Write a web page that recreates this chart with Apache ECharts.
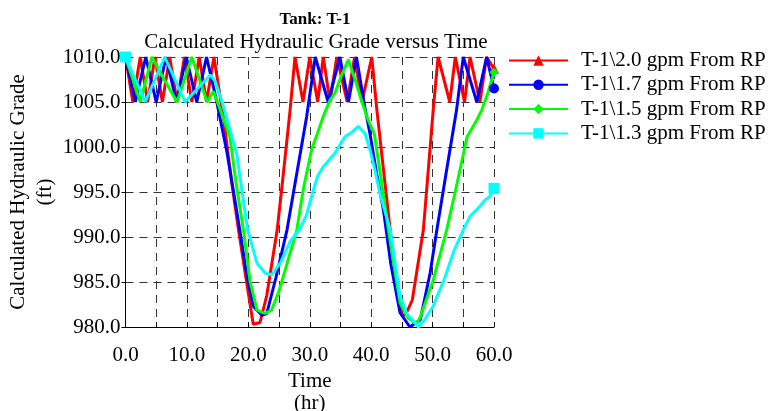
<!DOCTYPE html>
<html>
<head>
<meta charset="utf-8">
<script src="https://cdn.jsdelivr.net/npm/echarts@6/dist/echarts.min.js"></script>
<style>html,body{margin:0;padding:0;background:#fff;}#c{width:775px;height:411px;}</style>
</head>
<body>
<div id="c"></div>
<script>
var seriesNames = ['T-1\\2.0 gpm From RP','T-1\\1.7 gpm From RP','T-1\\1.5 gpm From RP','T-1\\1.3 gpm From RP'];
var xTickLabels = ['0.0','10.0','20.0','30.0','40.0','50.0','60.0'];

var redT = [0,1.2,2.4,3.6,4.8,6.0,7.2,8.4,9.6,10.8,12.0,13.2,14.4,16.0,17.3,18.4,19.6,20.8,21.9,23.0,24.7,25.7,26.8,27.6,28.9,30.0,31.3,32.2,33.3,34.4,36.1,37.3,38.5,40.1,40.9,42.0,43.1,44.2,45.1,45.7,46.7,48.5,50.1,50.9,52.8,53.7,55.2,56.1,57.7,58.8,60.0];
var redV = [1010,1005,1010,1005,1010,1005,1010,1005,1010,1005,1010,1005,1010,1003,996,990.8,985.5,980.3,980.5,983.5,990.8,997,1004.1,1010,1005,1010,1005,1010,1005,1010,1005,1010,1005,1010,1004.3,997.5,990.8,984.5,981.2,981.5,983,990.8,1004.1,1010,1005,1010,1005,1010,1005,1010,1008.7];

var blueT = [0,1.6,3.3,5.0,6.6,8.3,9.9,11.6,13.2,14.8,16.5,17.6,18.6,19.7,20.8,22.2,23.0,24.5,26.3,28.0,29.5,30.9,33.0,34.9,36.3,37.6,39.0,39.8,40.9,42.0,43.2,44.7,46.3,48.0,49.6,50.7,52.3,53.9,55.0,57.2,58.8,60.0];
var blueV = [1010,1005,1010,1005,1010,1005,1010,1005,1010,1005.2,999.5,995,990.8,986,982.3,981.3,981.5,985.5,990.8,997.5,1003.4,1010,1005,1010,1005,1010,1004.3,1001.5,997,993,987,981.6,980,980.8,986,990.8,997.5,1004.1,1010,1005,1010,1006.5];

var greenT = [0,2.4,4.3,6.3,8.4,10.8,13.3,14.3,15.5,17.0,18.0,19.2,20.3,21.4,22.7,23.8,25.0,26.5,27.9,29.0,30.3,31.5,32.2,33.3,34.1,35.2,36.3,37.6,38.5,39.5,40.5,41.5,42.8,44.7,46.0,47.4,48.0,50.1,52.3,54.0,55.6,57.2,58.0,59.0,60.0];
var greenV = [1010,1005,1010,1007.5,1005,1010,1005,1006.2,1004,1001.1,996,990.8,985,981.9,981.5,981.9,984,987.5,990.8,995.5,999.7,1002,1003.4,1005.2,1006,1008,1009.7,1007,1005,1003,1001.5,997,990.8,982.7,981,980.4,981.1,985.2,990.8,996,1001.1,1003,1004.1,1006,1008.3];

var cyanT = [0,3.2,6.4,9.7,13.8,14.6,15.5,16.5,17.3,18.1,19.0,19.9,21.4,22.7,23.8,25.2,26.8,28.5,29.5,30.5,31.3,32.2,34.1,35.7,36.8,37.9,39.0,39.8,40.6,41.4,43.1,44.7,45.8,47.7,48.7,50.1,52.0,53.5,55.0,56.1,57.7,58.5,59.3,60.0];
var cyanV = [1010,1005,1010,1005,1008,1007.3,1005.5,1003.2,1001.2,999.3,995,990.8,987.1,986,985.8,987.1,989.5,991,992.5,995,996.8,997.8,999.3,1001.1,1001.6,1002.3,1001.5,999.7,997.5,994.9,990.8,983.4,981.5,980,980.8,982.3,985.5,988.5,990.8,992.3,993.4,994.1,994.5,995.4];

function pairs(t, v){ return t.map(function(x,i){ return [x, v[i]]; }); }
var FONT = '"Liberation Serif","Times New Roman",serif';

function mk(name, t, v, color, symbol, size){
  var n = t.length;
  return {
    name: name, type: 'line', data: pairs(t, v),
    symbol: symbol,
    symbolSize: function(val, p){ return (p.dataIndex === 0 || p.dataIndex === n-1) ? size : 0; },
    showSymbol: true,
    lineStyle: {color: color, width: 3},
    itemStyle: {color: color},
    color: color,
    animation: false
  };
}

var chart = echarts.init(document.getElementById('c'), null, {renderer: 'canvas'});
chart.setOption({
  animation: false,
  backgroundColor: '#fff',
  textStyle: {fontFamily: FONT, color: '#000'},
  title: [
    {text: 'Tank: T-1', left: 310, top: 6, textAlign: 'center',
     textStyle: {fontFamily: FONT, fontWeight: 'bold', fontSize: 17, color: '#000'}},
    {text: 'Calculated Hydraulic Grade versus Time', left: 311, top: 27, textAlign: 'center',
     textStyle: {fontFamily: FONT, fontWeight: 'normal', fontSize: 21, color: '#000'}}
  ],
  legend: {
    left: 508, top: 50, padding: 0, orient: 'vertical', itemWidth: 59, itemHeight: 13, itemGap: 3.3,
    textStyle: {fontFamily: FONT, fontSize: 21, lineHeight: 21, color: '#000', padding: [0,0,0,8]},
    data: seriesNames
  },
  grid: {left: 125.5, right: 281, top: 57, bottom: 84, containLabel: false, outerBoundsMode: 'none'},
  xAxis: {
    type: 'value', min: 0, max: 60, interval: 5,
    name: 'Time\n(hr)', nameLocation: 'middle', nameGap: 43,
    nameTextStyle: {fontFamily: FONT, fontSize: 21, color: '#000', lineHeight: 22},
    axisLine: {lineStyle: {color: '#000', width: 1}},
    axisTick: {inside: true, length: 5, lineStyle: {color: '#000'}},
    axisLabel: {fontFamily: FONT, fontSize: 21, color: '#000', margin: 18,
      formatter: function(v){ var i = xTickLabels.indexOf(v.toFixed(1)); return i >= 0 ? xTickLabels[i] : ''; }},
    splitLine: {show: true, lineStyle: {color: '#333', type: [8,6], width: 1}}
  },
  yAxis: {
    type: 'value', min: 980, max: 1010, interval: 5,
    name: 'Calculated Hydraulic Grade\n(ft)', nameLocation: 'middle', nameGap: 67,
    nameTextStyle: {fontFamily: FONT, fontSize: 21, color: '#000', lineHeight: 27},
    axisLine: {show: true, lineStyle: {color: '#000', width: 1}},
    axisTick: {show: true, length: 4, lineStyle: {color: '#000'}},
    axisLabel: {fontFamily: FONT, fontSize: 21, color: '#000', margin: 5,
      formatter: function(v){ return v.toFixed(1); }},
    splitLine: {show: true, lineStyle: {color: '#333', type: [8,6], width: 1}}
  },
  series: [
    mk(seriesNames[0], redT, redV, '#ff0000', 'triangle', 10),
    mk(seriesNames[1], blueT, blueV, '#0000ff', 'circle', 10),
    mk(seriesNames[2], greenT, greenV, '#00ff00', 'diamond', 9),
    mk(seriesNames[3], cyanT, cyanV, '#00ffff', 'rect', 11)
  ]
});
</script>
</body>
</html>
